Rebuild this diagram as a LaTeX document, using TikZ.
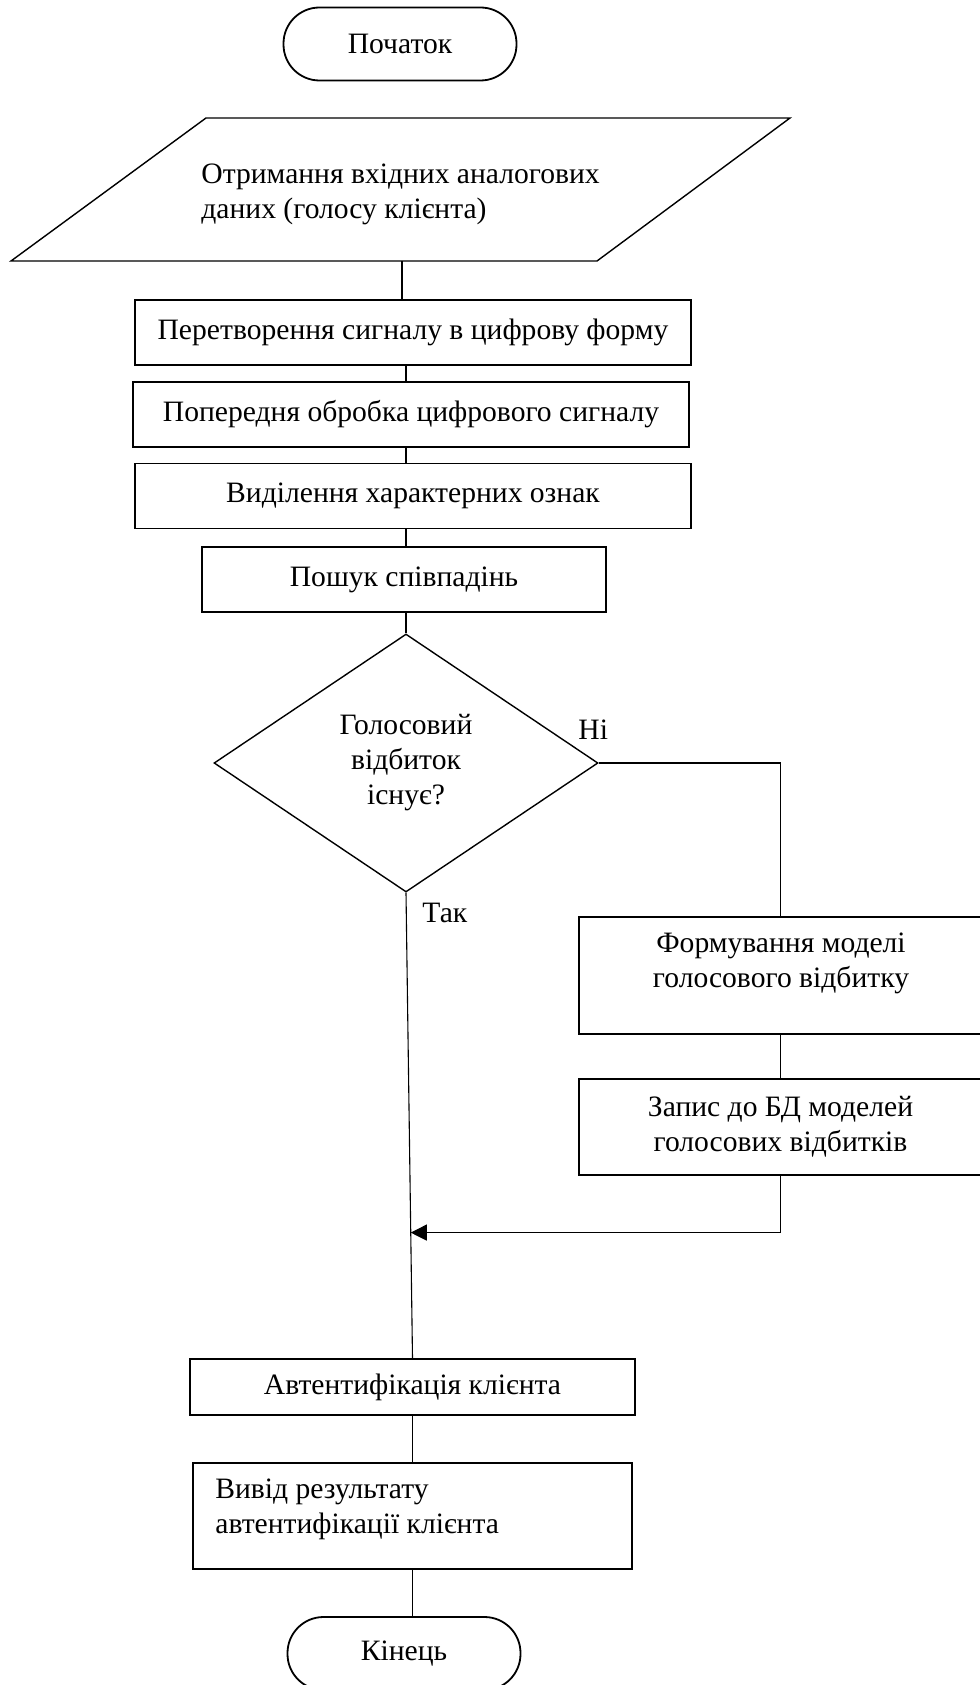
\documentclass[tikz,border=0pt]{standalone}
\usepackage{fontspec}
\setmainfont{Liberation Serif}
\usepackage{tikz}
\usetikzlibrary{shapes,arrows.meta,positioning,calc}
\newcommand{\flowfont}{\fontsize{14.8}{17.5}\selectfont}
\tikzset{
    terminal/.style={
        draw,
        rectangle,
        rounded corners=18pt,
        minimum width=116.5pt,
        minimum height=36.5pt,
        inner sep=0pt,
        line width=0.9pt,
        font=\flowfont
    },
    process/.style={
        draw,
        rectangle,
        align=center,
        minimum height=32.5pt,
        inner sep=0pt,
        line width=0.7pt,
        font=\flowfont
    },
    decision/.style={
        draw,
        diamond,
        align=center,
        minimum width=192pt,
        minimum height=129pt,
        inner sep=0pt,
        line width=0.7pt,
        font=\flowfont
    },
    conn/.style={
        draw,
        line width=0.55pt
    },
    arrow/.style={
        conn,
        -{Triangle[length=8pt,width=8pt]}
    },
    answer/.style={
        font=\flowfont,
        inner sep=0pt
    }
}

\begin{document}
\begin{tikzpicture}[x=0.5pt,y=-0.5pt]
    \useasboundingbox (0,0) rectangle (979,1685);

    % Start
    \node[terminal] (start) at (400,44) {Початок};

    % Input data
    \draw[line width=0.7pt] (206,118) -- (790,118) -- (597,261) -- (11,261) -- cycle;
    \node[answer, align=left, anchor=west] (input) at (201,194) {Отримання вхідних аналогових\\даних (голосу клієнта)};
    \coordinate (inbot) at (402,261);

    % Signal processing
    \node[process, minimum width=278pt] (conv) at (413,332.5) {Перетворення сигналу в цифрову форму};
    \node[process, minimum width=278pt] (prep) at (411,414.5) {Попередня обробка цифрового сигналу};
    \node[process, minimum width=278pt] (feat) at (413,496) {Виділення характерних ознак};
    \node[process, minimum width=202pt] (search) at (404,579.5) {Пошук співпадінь};

    % Decision
    \node[decision] (check) at (406,763) {Голосовий\\відбиток\\існує?};
    \node[answer, anchor=west] (no) at (578,730) {Ні};
    \node[answer, anchor=west] (yes) at (422,913) {Так};

    % New voice print
    \node[process, minimum width=201.5pt, minimum height=58.5pt] (model) at (780.5,975.5) {};
    \node[answer, align=center] (modeltext) at (781,963.5) {Формування моделі\\голосового відбитку};
    \node[process, minimum width=201.5pt, minimum height=48pt] (store) at (780.5,1127) {Запис до БД моделей\\голосових відбитків};

    % Authentication
    \node[process, minimum width=222.5pt, minimum height=28pt] (auth) at (412.5,1387) {Автентифікація клієнта};
    \node[process, minimum width=219.5pt, minimum height=53pt] (result) at (412.5,1516) {};
    \node[answer, align=left, anchor=west] (resulttext) at (215,1509.5) {Вивід результату\\автентифікації клієнта};

    % End
    \node[terminal] (finish) at (404,1653.5) {Кінець};

    % Connectors
    \draw[conn] (inbot) -- (inbot |- conv.north);
    \draw[conn] (conv.south -| check) -- (prep.north -| check);
    \draw[conn] (prep.south -| check) -- (feat.north -| check);
    \draw[conn] (feat.south -| check) -- (search.north -| check);
    \draw[conn] (search.south -| check) -- (check.north);
    \draw[conn] (check.east) -| (model.north);
    \draw[conn] (model.south) -- (store.north);
    \draw[conn] (check.south) -- (auth.north);
    \coordinate (join) at ($(check.south)!0.73!(auth.north)$);
    \draw[arrow] (store.south) |- (join);
    \draw[conn] (auth.south) -- (result.north);
    \draw[conn] (result.south) -- (result.south |- finish.north);
\end{tikzpicture}
\end{document}
